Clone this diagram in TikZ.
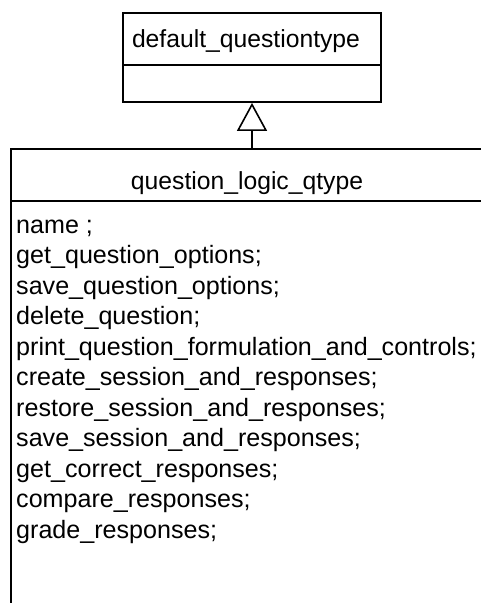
\documentclass[tikz,border=0pt]{standalone}
\usepackage{fontspec}
\setmainfont{Liberation Sans}
\usetikzlibrary{arrows.meta}

\begin{document}
\begin{tikzpicture}[x=1pt,y=-1pt,
    classbox/.style={draw,line width=1.8pt,inner sep=0pt},
    classname/.style={anchor=base,inner sep=0pt,font=\fontsize{24.7}{30}\selectfont},
    member/.style={anchor=base west,inner sep=0pt,font=\fontsize{25.1}{30}\selectfont}]

        \useasboundingbox (0,0) rectangle (481,603);
        \clip (0,0) rectangle (481,603);

        \coordinate (A) at (252,57.5);
        \coordinate (B) at (247,424.5);
        \coordinate (D1) at (0,65);
        \coordinate (D2) at (0,201);
        \node[classbox,minimum width=258pt,minimum height=89pt] (QD) at (A) {};
        \node[classbox,minimum width=472pt,minimum height=551pt] (QL) at (B) {};
        \draw[line width=1.8pt] (QD.west |- D1) -- (QD.east |- D1);
        \draw[line width=1.8pt] (QL.west |- D2) -- (QL.east |- D2);

        \node[classname] (TD) at (246,47) {default\_questiontype};
        \node[classname] (TL) at (247,189) {question\_logic\_qtype};

        \draw[-{Triangle[open,length=28pt,width=30pt]},line width=1.6pt] (QD.south |- QL.north) -- (QD.south);

        \foreach \txt [count=\i] in {name ;, get\_question\_options;, save\_question\_options;,
            delete\_question;, print\_question\_formulation\_and\_controls;,
            create\_session\_and\_responses;, restore\_session\_and\_responses;,
            save\_session\_and\_responses;, get\_correct\_responses;,
            compare\_responses;, grade\_responses;}
            \node[member] (m\i) at (16,233+30.5*\i-30.5) {\txt};
      \end{tikzpicture}
\end{document}
